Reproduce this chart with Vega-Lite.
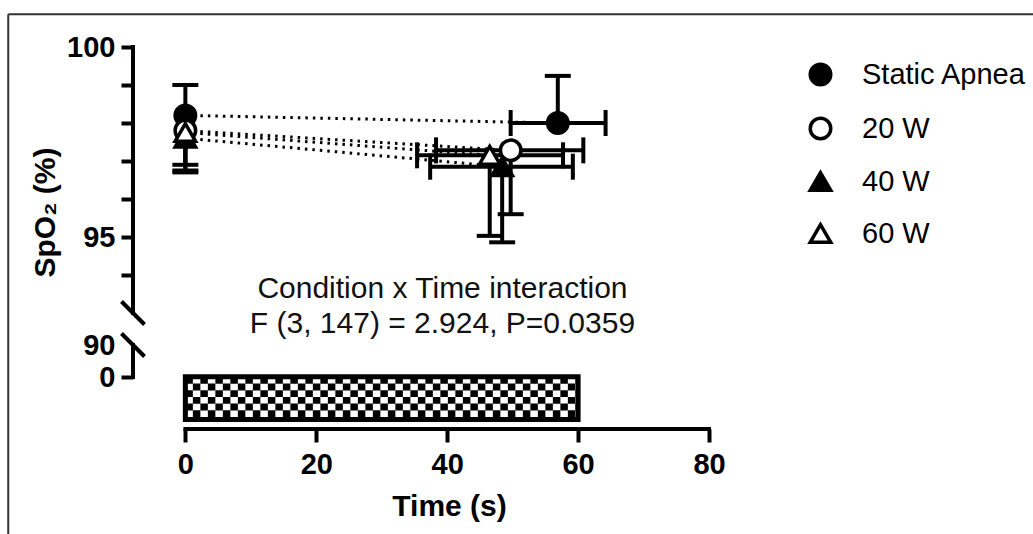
{
  "$schema": "https://vega.github.io/schema/vega-lite/v6.json",
  "autosize": {"type": "none"},
  "width": 576,
  "height": 382,
  "padding": {"left": 133, "top": 47, "right": 324, "bottom": 105},
  "background": "white",
  "config": {
    "view": {"stroke": null},
    "legend": {
      "orient": "none",
      "legendX": 673,
      "legendY": 13,
      "labelFont": "Liberation Sans",
      "labelFontSize": 29,
      "labelColor": "black",
      "labelOffset": 27,
      "labelLimit": 0,
      "rowPadding": 19,
      "symbolSize": 420,
      "symbolStrokeWidth": 3.5
    }
  },
  "datasets": {
    "pts": [
      {"cond": "Static Apnea", "t": 0, "v": 98.2, "vend": 99.0},
      {"cond": "20 W", "t": 0, "v": 97.8, "vend": 96.9},
      {"cond": "40 W", "t": 0, "v": 97.6, "vend": 96.75},
      {"cond": "60 W", "t": 0, "v": 97.75, "vend": 96.7},
      {"cond": "Static Apnea", "t": 56.9, "v": 98.0, "vend": 99.24, "tlo": 49.7, "thi": 64.2},
      {"cond": "20 W", "t": 49.7, "v": 97.28, "vend": 95.6, "tlo": 38.3, "thi": 60.8},
      {"cond": "40 W", "t": 48.4, "v": 96.85, "vend": 94.86, "tlo": 37.4, "thi": 59.2},
      {"cond": "60 W", "t": 46.5, "v": 97.15, "vend": 95.03, "tlo": 35.4, "thi": 57.7}
    ],
    "bar": [{"t": 0, "t2": 60, "v": 0.6, "v2": -9.8}],
    "checker": [
      {"t": 0, "t2": 60, "v": -0.77, "p": "a"},
      {"t": 0, "t2": 60, "v": -2.31, "p": "b"},
      {"t": 0, "t2": 60, "v": -3.85, "p": "a"},
      {"t": 0, "t2": 60, "v": -5.38, "p": "b"},
      {"t": 0, "t2": 60, "v": -6.92, "p": "a"},
      {"t": 0, "t2": 60, "v": -8.46, "p": "b"}
    ],
    "yaxisline": [{"t": -8, "v": 93, "v2": 100}, {"t": -8, "v": 0, "v2": 90}],
    "xaxisline": [{"t": 0, "t2": 80, "v": -12}],
    "breaks": [{"t": -8, "v": 93}, {"t": -8, "v": 90}],
    "frame": [
      {"t": -27.06, "t2": -27.06, "v": 100.86, "v2": -60},
      {"t": -27.06, "t2": 200, "v": 100.86, "v2": 100.86}
    ],
    "notes": [
      {"t": 39.28, "v": 93.395, "label": "Condition x Time interaction"},
      {"t": 39.28, "v": 91.125, "label": "F (3, 147) = 2.924, P=0.0359"}
    ]
  },
  "layer": [
    {
      "data": {"name": "pts"},
      "mark": {"type": "line", "strokeDash": [2.5, 5], "strokeWidth": 3, "color": "black"},
      "encoding": {
        "x": {"field": "t", "type": "quantitative",
          "scale": {"domain": [-8, 80], "nice": false, "zero": false},
          "axis": {"values": [0, 20, 40, 60, 80], "domain": false, "grid": false,
            "tickSize": 13, "tickWidth": 4, "tickColor": "black",
            "labelFont": "Liberation Sans", "labelFontWeight": "bold", "labelFontSize": 29, "labelColor": "black",
            "labelBaseline": "alphabetic", "labelPadding": 31, "labelFlush": false, "labelOverlap": false,
            "title": "Time (s)", "titleFont": "Liberation Sans", "titleFontWeight": "bold", "titleFontSize": 30,
            "titleColor": "black", "titleX": 316, "titleY": 86, "titleBaseline": "alphabetic", "titleAlign": "center"}},
        "y": {"field": "v", "type": "quantitative",
          "scale": {"domain": [-12, 0, 90, 93, 100], "range": [382, 330, 298, 266, 0], "nice": false, "zero": false},
          "axis": {"values": [0, 90, 94, 95, 96, 97, 98, 99, 100], "domain": false, "grid": false,
            "labelExpr": "(datum.value == 0 || datum.value == 90 || datum.value == 95 || datum.value == 100) ? datum.label : ''",
            "tickSize": 12, "tickWidth": 4, "tickColor": "black",
            "tickOpacity": {"condition": {"test": "datum.value == 90", "value": 0}, "value": 1},
            "labelFont": "Liberation Sans", "labelFontWeight": "bold", "labelFontSize": 29, "labelColor": "black",
            "labelPadding": 6, "labelOverlap": false, "labelFlush": false,
            "title": "SpO₂ (%)", "titleFont": "Liberation Sans", "titleFontWeight": "bold", "titleFontSize": 30,
            "titleColor": "black", "titleX": -88, "titleY": 165, "titleBaseline": "middle", "titleAlign": "center", "titleAngle": -90}},
        "detail": {"field": "cond", "type": "nominal"}
      }
    },
    {
      "data": {"name": "frame"},
      "mark": {"type": "rule", "color": "#333333", "strokeWidth": 2},
      "encoding": {
        "x": {"field": "t", "type": "quantitative"},
        "x2": {"field": "t2"},
        "y": {"field": "v", "type": "quantitative"},
        "y2": {"field": "v2"}
      }
    },
    {
      "data": {"name": "checker"},
      "transform": [{"filter": "datum.p == 'a'"}],
      "mark": {"type": "rule", "strokeWidth": 6.8, "color": "black", "strokeCap": "butt", "strokeDash": [7.5, 7.5], "strokeDashOffset": 0},
      "encoding": {
        "x": {"field": "t", "type": "quantitative"},
        "x2": {"field": "t2"},
        "y": {"field": "v", "type": "quantitative"}
      }
    },
    {
      "data": {"name": "checker"},
      "transform": [{"filter": "datum.p == 'b'"}],
      "mark": {"type": "rule", "strokeWidth": 6.8, "color": "black", "strokeCap": "butt", "strokeDash": [7.5, 7.5], "strokeDashOffset": 7.5},
      "encoding": {
        "x": {"field": "t", "type": "quantitative"},
        "x2": {"field": "t2"},
        "y": {"field": "v", "type": "quantitative"}
      }
    },
    {
      "data": {"name": "bar"},
      "mark": {"type": "rect", "fillOpacity": 0, "stroke": "black", "strokeWidth": 5},
      "encoding": {
        "x": {"field": "t", "type": "quantitative"},
        "x2": {"field": "t2"},
        "y": {"field": "v", "type": "quantitative"},
        "y2": {"field": "v2"}
      }
    },
    {
      "data": {"name": "xaxisline"},
      "mark": {"type": "rule", "color": "black", "strokeWidth": 4, "strokeCap": "square"},
      "encoding": {
        "x": {"field": "t", "type": "quantitative"},
        "x2": {"field": "t2"},
        "y": {"field": "v", "type": "quantitative"}
      }
    },
    {
      "data": {"name": "yaxisline"},
      "mark": {"type": "rule", "color": "black", "strokeWidth": 4, "strokeCap": "square"},
      "encoding": {
        "x": {"field": "t", "type": "quantitative"},
        "y": {"field": "v", "type": "quantitative"},
        "y2": {"field": "v2"}
      }
    },
    {
      "data": {"name": "breaks"},
      "mark": {"type": "point", "shape": "M-1,-1L1,1", "size": 529, "stroke": "black", "strokeWidth": 4, "filled": false, "opacity": 1},
      "encoding": {
        "x": {"field": "t", "type": "quantitative"},
        "y": {"field": "v", "type": "quantitative"}
      }
    },
    {
      "data": {"name": "pts"},
      "mark": {"type": "rule", "color": "black", "strokeWidth": 4},
      "encoding": {
        "x": {"field": "t", "type": "quantitative"},
        "y": {"field": "v", "type": "quantitative"},
        "y2": {"field": "vend"}
      }
    },
    {
      "data": {"name": "pts"},
      "mark": {"type": "tick", "orient": "horizontal", "size": 26, "thickness": 4, "color": "black", "opacity": 1},
      "encoding": {
        "x": {"field": "t", "type": "quantitative"},
        "y": {"field": "vend", "type": "quantitative"}
      }
    },
    {
      "data": {"name": "pts"},
      "transform": [{"filter": "isValid(datum.tlo)"}],
      "mark": {"type": "rule", "color": "black", "strokeWidth": 4},
      "encoding": {
        "x": {"field": "tlo", "type": "quantitative"},
        "x2": {"field": "thi"},
        "y": {"field": "v", "type": "quantitative"}
      }
    },
    {
      "data": {"name": "pts"},
      "transform": [{"filter": "isValid(datum.tlo)"}],
      "mark": {"type": "tick", "orient": "vertical", "size": 26, "thickness": 4, "color": "black", "opacity": 1},
      "encoding": {
        "x": {"field": "tlo", "type": "quantitative"},
        "y": {"field": "v", "type": "quantitative"}
      }
    },
    {
      "data": {"name": "pts"},
      "transform": [{"filter": "isValid(datum.tlo)"}],
      "mark": {"type": "tick", "orient": "vertical", "size": 26, "thickness": 4, "color": "black", "opacity": 1},
      "encoding": {
        "x": {"field": "thi", "type": "quantitative"},
        "y": {"field": "v", "type": "quantitative"}
      }
    },
    {
      "data": {"name": "pts"},
      "mark": {"type": "point", "size": 420, "strokeWidth": 3.5, "filled": true, "opacity": 1},
      "encoding": {
        "x": {"field": "t", "type": "quantitative"},
        "y": {"field": "v", "type": "quantitative"},
        "shape": {"field": "cond", "type": "nominal",
          "scale": {"domain": ["Static Apnea", "20 W", "40 W", "60 W"], "range": ["circle", "circle", "triangle-up", "triangle-up"]},
          "legend": {"title": null}},
        "fill": {"field": "cond", "type": "nominal",
          "scale": {"domain": ["Static Apnea", "20 W", "40 W", "60 W"], "range": ["black", "white", "black", "white"]},
          "legend": {"title": null}},
        "stroke": {"field": "cond", "type": "nominal",
          "scale": {"domain": ["Static Apnea", "20 W", "40 W", "60 W"], "range": ["black", "black", "black", "black"]},
          "legend": {"title": null}}
      }
    },
    {
      "data": {"name": "notes"},
      "mark": {"type": "text", "font": "Liberation Sans", "fontSize": 30, "align": "center", "baseline": "alphabetic", "color": "#111111"},
      "encoding": {
        "x": {"field": "t", "type": "quantitative"},
        "y": {"field": "v", "type": "quantitative"},
        "text": {"field": "label"}
      }
    }
  ]
}
